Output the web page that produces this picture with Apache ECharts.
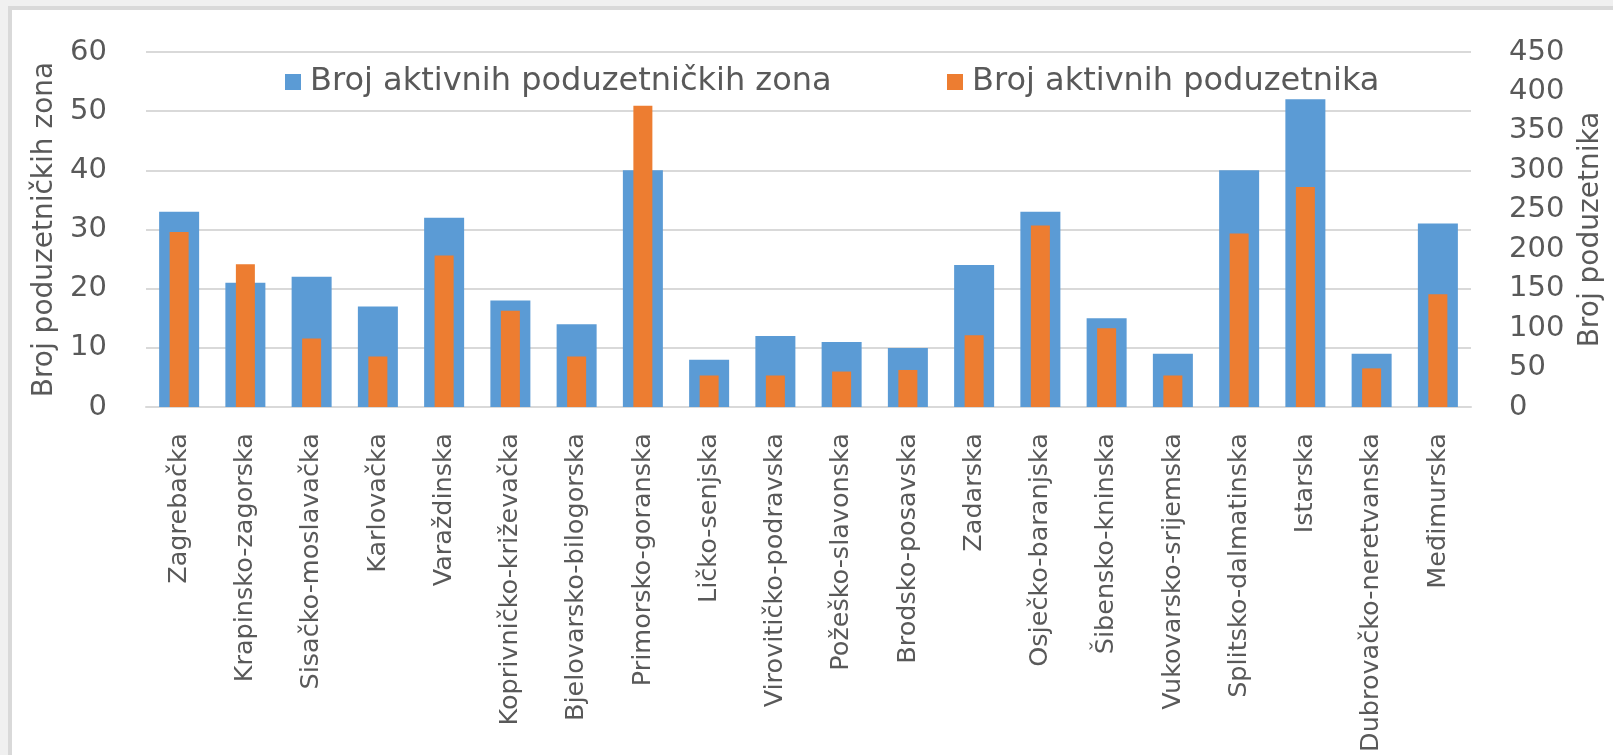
<!DOCTYPE html>
<html>
<head>
<meta charset="utf-8">
<script src="https://cdn.jsdelivr.net/npm/echarts@6/dist/echarts.min.js"></script>
<style>
  html, body { margin: 0; padding: 0; background: #f0f0f0; }
  #chart { width: 1613px; height: 755px; }
</style>
</head>
<body>
<div id="chart"></div>
<script>
const categories = ['Zagrebačka', 'Krapinsko-zagorska', 'Sisačko-moslavačka', 'Karlovačka', 'Varaždinska',
  'Koprivničko-križevačka', 'Bjelovarsko-bilogorska', 'Primorsko-goranska', 'Ličko-senjska',
  'Virovitičko-podravska', 'Požeško-slavonska', 'Brodsko-posavska', 'Zadarska', 'Osječko-baranjska',
  'Šibensko-kninska', 'Vukovarsko-srijemska', 'Splitsko-dalmatinska', 'Istarska',
  'Dubrovačko-neretvanska', 'Međimurska'];
const zoneName = 'Broj aktivnih poduzetničkih zona';
const entName = 'Broj aktivnih poduzetnika';
const zones = [33, 21, 22, 17, 32, 18, 14, 40, 8, 12, 11, 10, 24, 33, 15, 9, 40, 52, 9, 31];
const entrepreneurs = [222, 181, 87, 64, 192, 122, 64, 382, 40, 40, 45, 47, 91, 230, 100, 40, 220, 279, 49, 143];
const leftAxisTitle = 'Broj poduzetničkih zona';
const rightAxisTitle = 'Broj poduzetnika';

const FONT = 'DejaVu Sans';
const TXT = '#595959';
const chart = echarts.init(document.getElementById('chart'));
chart.setOption({
  backgroundColor: '#f0f0f0',
  animation: false,
  textStyle: { fontFamily: FONT },
  graphic: [{
    type: 'rect', z: -100, silent: true,
    shape: { x: 10, y: 8, width: 1700, height: 900 },
    style: { fill: '#ffffff', stroke: '#d9d9d9', lineWidth: 4 }
  }],
  legend: [
    { data: [zoneName], left: 280, top: 61, itemWidth: 16, itemHeight: 16, icon: 'rect',
      textStyle: { fontFamily: FONT, fontSize: 32, color: TXT, padding: [0, 0, 0, 4] } },
    { data: [entName], left: 942, top: 61, itemWidth: 16, itemHeight: 16, icon: 'rect',
      textStyle: { fontFamily: FONT, fontSize: 32, color: TXT, padding: [0, 0, 0, 4] } }
  ],
  grid: { left: 146, right: 138, top: 52, bottom: 347, containLabel: false },
  xAxis: [
    { type: 'category', data: categories,
      axisLine: { lineStyle: { color: '#d9d9d9', width: 2 } },
      axisTick: { show: false },
      axisLabel: { interval: 0, rotate: 90, margin: 26, fontFamily: FONT, fontSize: 25.5, color: TXT } },
    { type: 'category', data: categories, show: false }
  ],
  yAxis: [
    { type: 'value', min: 0, max: 60, interval: 10, position: 'left',
      name: leftAxisTitle, nameLocation: 'middle', nameRotate: 90, nameGap: 84,
      nameTextStyle: { fontFamily: FONT, fontSize: 28, color: TXT },
      axisLine: { show: false }, axisTick: { show: false },
      axisLabel: { margin: 39, fontFamily: FONT, fontSize: 29, color: TXT },
      splitLine: { lineStyle: { color: '#d9d9d9', width: 2 } } },
    { type: 'value', min: 0, max: 450, interval: 50, position: 'right',
      name: rightAxisTitle, nameLocation: 'middle', nameRotate: 90, nameGap: 106,
      nameTextStyle: { fontFamily: FONT, fontSize: 28, color: TXT },
      axisLine: { show: false }, axisTick: { show: false },
      axisLabel: { margin: 38, fontFamily: FONT, fontSize: 29, color: TXT },
      splitLine: { show: false } }
  ],
  series: [
    { name: zoneName, type: 'bar', xAxisIndex: 0, yAxisIndex: 0, data: zones,
      barWidth: 40, itemStyle: { color: '#5b9bd5' } },
    { name: entName, type: 'bar', xAxisIndex: 1, yAxisIndex: 1, data: entrepreneurs,
      barWidth: 19, itemStyle: { color: '#ed7d31' } }
  ]
});
</script>
</body>
</html>
